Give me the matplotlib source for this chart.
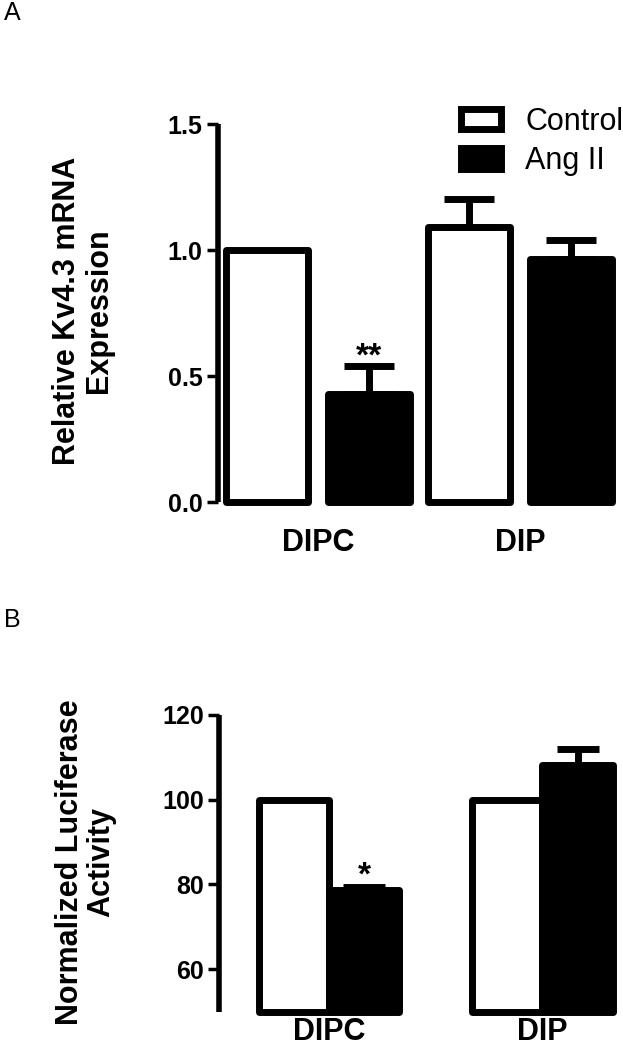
import matplotlib
matplotlib.use("Agg")
import matplotlib.pyplot as plt
import matplotlib.patches as patches
import numpy as np

plt.rcParams['font.family'] = ['Liberation Sans', 'DejaVu Sans']

# --- DATA ---
groups = ['DIPC', 'DIP']
series = ['Control', 'Ang II']

kv_control = [1.00, 1.09]
kv_control_err = [0.0, 0.113]
kv_ang = [0.43, 0.965]
kv_ang_err = [0.11, 0.075]
kv_stars = ['**', '']
kv_ticks = [0.0, 0.5, 1.0, 1.5]
kv_ticklabels = ['0.0', '0.5', '1.0', '1.5']

luc_control = [100, 100]
luc_control_err = [0, 0]
luc_ang = [78.6, 108.2]
luc_ang_err = [0.9, 3.8]
luc_stars = ['*', '']
luc_ticks = [60, 80, 100, 120]
luc_ticklabels = ['60', '80', '100', '120']

W, H = 623, 1050
LW = 5  # thick GraphPad style outlines


def style_axis(ax, ymin, ymax, ticks, ticklabels, xpad):
    for s in ['top', 'right', 'bottom']:
        ax.spines[s].set_visible(False)
    ax.spines['left'].set_linewidth(4)
    ax.spines['left'].set_bounds(ymin, ymax)
    ax.spines['left'].set_capstyle('butt')
    ax.set_ylim(ymin, ymax)
    ax.set_yticks(ticks)
    ax.set_yticklabels(ticklabels, fontsize=18, fontweight='bold')
    ax.tick_params(axis='y', length=8, width=2.5, pad=3)
    ax.tick_params(axis='x', length=0, pad=xpad)
    ax.set_xticks(range(len(groups)))
    ax.set_xticklabels(groups, fontsize=22, fontweight='bold')
    ax.patch.set_visible(False)


def draw_bars(ax, offset, width, base, ctrl, ctrl_err, ang, ang_err, capsize, stars, star_pad):
    x = np.arange(len(groups))
    h1 = [v - base for v in ctrl]
    h2 = [v - base for v in ang]
    b1 = ax.bar(x - offset, h1, width, bottom=base, color='white', edgecolor='black',
                linewidth=LW, zorder=3)
    b2 = ax.bar(x + offset, h2, width, bottom=base, color='black', edgecolor='black',
                linewidth=LW, zorder=3)
    for b in list(b1) + list(b2):
        b.set_joinstyle('round')
        b.set_clip_on(False)
    for xs, vals, errs in [(x - offset, ctrl, ctrl_err), (x + offset, ang, ang_err)]:
        for xi, v, e in zip(xs, vals, errs):
            if e > 0:
                ax.errorbar(xi, v, yerr=[[0], [e]], fmt='none', ecolor='black',
                            elinewidth=LW, capsize=capsize, capthick=LW, zorder=4)
    for xi, v, e, s in zip(x + offset, ang, ang_err, stars):
        if s:
            ax.text(xi, v + e + star_pad, s, ha='center', va='baseline',
                    fontsize=24, fontweight='bold', zorder=5)


fig = plt.figure(figsize=(W / 100, H / 100), dpi=100, facecolor='white')

# --- PANEL A ---
axA = fig.add_axes([218 / W, 1 - 502 / H, (621 - 218) / W, (502 - 124) / H])
axA.set_xlim(-0.495, 1.5)
style_axis(axA, 0.0, 1.5, kv_ticks, kv_ticklabels, 19)
draw_bars(axA, 0.2525, 0.41, 0.0, kv_control, kv_control_err, kv_ang, kv_ang_err,
          18, kv_stars, 0.0)

leg_handles = [patches.Rectangle((0, 0), 1, 1, facecolor='white', edgecolor='black', linewidth=LW),
               patches.Rectangle((0, 0), 1, 1, facecolor='black', edgecolor='black', linewidth=LW)]
fig.legend(leg_handles, series, loc='upper left', bbox_to_anchor=(461 / W, 1 - 107 / H),
           frameon=False, fontsize=22, handlelength=1.3, handleheight=0.65,
           handletextpad=0.8, labelspacing=0.3, borderpad=0, borderaxespad=0)

fig.text(83 / W, 1 - 311 / H, 'Relative Kv4.3 mRNA\nExpression', rotation=90,
         ha='center', va='center', fontsize=22, fontweight='bold', linespacing=1.05,
         multialignment='center')

# --- PANEL B ---
axB = fig.add_axes([219 / W, 1 - 1011.5 / H, (623 - 219) / W, (1011.5 - 715) / H])
axB.set_xlim(-0.515, 1.377)
style_axis(axB, 50, 120, luc_ticks, luc_ticklabels, 4)
draw_bars(axB, 0.165, 0.33, 50, luc_control, luc_control_err, luc_ang, luc_ang_err,
          15, luc_stars, 0.5)

fig.text(86 / W, 1 - 862 / H, 'Normalized Luciferase\nActivity', rotation=90,
         ha='center', va='center', fontsize=22, fontweight='bold', linespacing=1.05,
         multialignment='center')

# panel letters
fig.text(4 / W, 1 - 13 / H, 'A', fontsize=18, ha='left', va='center')
fig.text(4 / W, 1 - 620 / H, 'B', fontsize=18, ha='left', va='center')

fig.savefig('out.png', dpi=100, facecolor='white')
